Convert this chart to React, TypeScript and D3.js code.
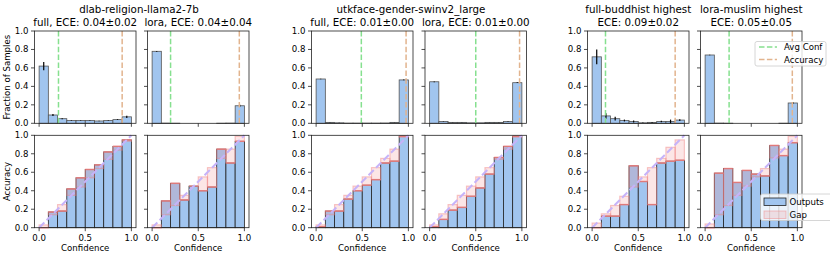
import React from 'react';
import * as d3 from 'd3';

// bins shared by every panel
const binEdges = [0, 0.1, 0.2, 0.3, 0.4, 0.5, 0.6, 0.7, 0.8, 0.9, 1.0];
const binCenters = [0.05, 0.15, 0.25, 0.35, 0.45, 0.55, 0.65, 0.75, 0.85, 0.95];
const yTicks = [0, 0.2, 0.4, 0.6, 0.8, 1.0];
const xTicks = [0, 0.5, 1.0];

// dlab-religion-llama2-7b, full
const dlabFullFrac = [0.62, 0.09, 0.05, 0.03, 0.03, 0.03, 0.025, 0.03, 0.04, 0.07];
const dlabFullErr = [0.045, 0.012, 0.006, 0.003, 0.003, 0.003, 0.003, 0.003, 0.004, 0.012];
const dlabFullAcc = [0.0, 0.17, 0.18, 0.42, 0.54, 0.63, 0.68, 0.82, 0.88, 0.95];
const dlabFullConf = [0.03, 0.14, 0.25, 0.35, 0.44, 0.54, 0.64, 0.74, 0.84, 0.935];

// dlab-religion-llama2-7b, lora
const dlabLoraFrac = [0.78, 0.002, 0.001, 0, 0, 0, 0, 0.001, 0.002, 0.19];
const dlabLoraErr = [0.004, 0, 0, 0, 0, 0, 0, 0, 0, 0.012];
const dlabLoraAcc = [0.0, 0.29, 0.48, 0.3, 0.45, 0.4, 0.44, 0.85, 0.7, 0.935];
const dlabLoraConf = [0.03, 0.14, 0.24, 0.35, 0.45, 0.55, 0.65, 0.75, 0.85, 0.99];

// utkface-gender-swinv2_large, full
const utkFullFrac = [0.48, 0.01, 0.005, 0.002, 0.002, 0.002, 0.002, 0.003, 0.01, 0.47];
const utkFullErr = [0.004, 0.001, 0.001, 0, 0, 0, 0, 0, 0.001, 0.004];
const utkFullAcc = [0.01, 0.18, 0.18, 0.31, 0.4, 0.46, 0.52, 0.7, 0.72, 0.99];
const utkFullConf = [0.03, 0.14, 0.25, 0.35, 0.45, 0.55, 0.65, 0.75, 0.85, 0.98];

// utkface-gender-swinv2_large, lora
const utkLoraFrac = [0.45, 0.02, 0.01, 0.01, 0.005, 0.005, 0.01, 0.01, 0.02, 0.44];
const utkLoraErr = [0.004, 0.002, 0.001, 0.001, 0, 0, 0.001, 0.001, 0.002, 0.004];
const utkLoraAcc = [0.01, 0.09, 0.19, 0.22, 0.34, 0.43, 0.58, 0.76, 0.88, 0.99];
const utkLoraConf = [0.03, 0.15, 0.25, 0.35, 0.45, 0.55, 0.65, 0.74, 0.85, 0.98];

// full-buddhist highest
const buddhistFrac = [0.72, 0.08, 0.05, 0.03, 0.02, 0.005, 0.01, 0.02, 0.02, 0.035];
const buddhistErr = [0.08, 0.03, 0.02, 0.01, 0.01, 0.003, 0.005, 0.008, 0.02, 0.01];
const buddhistAcc = [0.0, 0.125, 0.125, 0.25, 0.67, 0.5, 0.25, 0.7, 0.72, 0.73];
const buddhistConf = [0.05, 0.15, 0.24, 0.34, 0.44, 0.55, 0.65, 0.75, 0.87, 0.95];

// lora-muslim highest
const muslimFrac = [0.74, 0.002, 0.001, 0, 0, 0, 0, 0, 0.001, 0.22];
const muslimErr = [0.003, 0, 0, 0, 0, 0, 0, 0, 0, 0.012];
const muslimAcc = [0.0, 0.59, 0.64, 0.49, 0.62, 0.58, 0.56, 0.89, 0.78, 0.92];
const muslimConf = [0.04, 0.14, 0.24, 0.35, 0.45, 0.55, 0.64, 0.755, 0.85, 0.99];

// vertical reference lines in the top row
const avgConfLines = [0.21, 0.2, 0.49, 0.5, 0.145, 0.26];
const accuracyLines = [0.9, 0.945, 0.975, 0.975, 0.9, 0.945];

const panelTitles = [
  ['full, ECE: 0.04±0.02'],
  ['lora, ECE: 0.04±0.04'],
  ['full, ECE: 0.01±0.00'],
  ['lora, ECE: 0.01±0.00'],
  ['full-buddhist highest', 'ECE: 0.09±0.02'],
  ['lora-muslim highest', 'ECE: 0.05±0.05'],
];
const groupTitles = [
  { text: 'dlab-religion-llama2-7b', x: 139 },
  { text: 'utkface-gender-swinv2_large', x: 411 },
];

const FONT = "'DejaVu Sans', sans-serif";
const BLUE = '#a1c5ef';
const GAP = '#f08080';
const GREEN = '#86e08f';
const ORANGE = '#e2b48e';
const DIAG = '#c6b3f9';

const PW = 101.5;
const lefts = [34.5, 147.5, 311.5, 425, 587.5, 700.5];
const topRow = { y0: 31, y1: 123.3 };
const botRow = { y0: 135.3, y1: 227.7 };

const panels = [
  { frac: dlabFullFrac, err: dlabFullErr, acc: dlabFullAcc, conf: dlabFullConf },
  { frac: dlabLoraFrac, err: dlabLoraErr, acc: dlabLoraAcc, conf: dlabLoraConf },
  { frac: utkFullFrac, err: utkFullErr, acc: utkFullAcc, conf: utkFullConf },
  { frac: utkLoraFrac, err: utkLoraErr, acc: utkLoraAcc, conf: utkLoraConf },
  { frac: buddhistFrac, err: buddhistErr, acc: buddhistAcc, conf: buddhistConf },
  { frac: muslimFrac, err: muslimErr, acc: muslimAcc, conf: muslimConf },
];

const fmt = d3.format('.1f');

const Axes = ({ x, y, row, showY, showX }) => {
  const [x0, x1] = x.range();
  const [y1, y0] = y.range();
  return (
    <g fontFamily={FONT} fontSize={8.6}>
      <rect x={x0} y={y0} width={x1 - x0} height={y1 - y0} fill="none" stroke="#222" strokeWidth={0.8} />
      {yTicks.map(t => (
        <g key={'y' + t}>
          <line x1={x0 - 3.5} x2={x0} y1={y(t)} y2={y(t)} stroke="#222" strokeWidth={0.8} />
          {showY && <text x={x0 - 6} y={y(t)} dy="0.34em" textAnchor="end">{fmt(t)}</text>}
        </g>
      ))}
      {xTicks.map(t => (
        <g key={'x' + t}>
          <line x1={x(t)} x2={x(t)} y1={y1} y2={y1 + 3.5} stroke="#222" strokeWidth={0.8} />
          {showX && <text x={x(t)} y={y1 + 13} textAnchor="middle">{fmt(t)}</text>}
        </g>
      ))}
      {showX && <text x={(x0 + x1) / 2} y={251} textAnchor="middle">Confidence</text>}
    </g>
  );
};

const TopPanel = ({ i }) => {
  const p = panels[i];
  const x = d3.scaleLinear().domain([-0.05, 1.05]).range([lefts[i], lefts[i] + PW]);
  const y = d3.scaleLinear().domain([0, 1]).range([topRow.y1, topRow.y0]);
  return (
    <g>
      {p.frac.map((v, k) => (
        <rect key={k} x={x(binEdges[k])} width={x(binEdges[k + 1]) - x(binEdges[k])}
          y={y(v)} height={y(0) - y(v)} fill={BLUE} stroke="#555" strokeWidth={0.8} />
      ))}
      {p.err.map((e, k) => e > 0 && (
        <line key={'e' + k} x1={x(binCenters[k])} x2={x(binCenters[k])}
          y1={y(Math.max(0, p.frac[k] - e))} y2={y(p.frac[k] + e)} stroke="#000" strokeWidth={1.2} />
      ))}
      <line x1={x(avgConfLines[i])} x2={x(avgConfLines[i])} y1={y(0)} y2={y(1)}
        stroke={GREEN} strokeWidth={1.5} strokeDasharray="5.5,2.4" />
      <line x1={x(accuracyLines[i])} x2={x(accuracyLines[i])} y1={y(0)} y2={y(1)}
        stroke={ORANGE} strokeWidth={1.5} strokeDasharray="5.5,2.4" />
      <Axes x={x} y={y} row="top" showY={i % 2 === 0} showX={false} />
    </g>
  );
};

const BottomPanel = ({ i }) => {
  const p = panels[i];
  const x = d3.scaleLinear().domain([-0.05, 1.05]).range([lefts[i], lefts[i] + PW]);
  const y = d3.scaleLinear().domain([0, 1]).range([botRow.y1, botRow.y0]);
  const w = k => x(binEdges[k + 1]) - x(binEdges[k]);
  return (
    <g>
      {p.acc.map((v, k) => (
        <rect key={k} x={x(binEdges[k])} width={w(k)} y={y(v)} height={y(0) - y(v)}
          fill={BLUE} stroke="#222" strokeWidth={0.8} />
      ))}
      {p.acc.map((v, k) => {
        const lo = Math.min(v, p.conf[k]);
        const hi = Math.max(v, p.conf[k]);
        return (
          <rect key={'g' + k} x={x(binEdges[k])} width={w(k)} y={y(hi)} height={y(lo) - y(hi)}
            fill={GAP} fillOpacity={0.2} stroke={GAP} strokeOpacity={0.45} strokeWidth={1.2} />
        );
      })}
      {p.acc.map((v, k) => (
        <line key={'a' + k} x1={x(binEdges[k])} x2={x(binEdges[k + 1])} y1={y(v)} y2={y(v)}
          stroke={GAP} strokeOpacity={0.8} strokeWidth={1.5} />
      ))}
      <line x1={x(0)} y1={y(0)} x2={x(1)} y2={y(1)} stroke={DIAG} strokeWidth={2} strokeDasharray="7.4,3.2" />
      <Axes x={x} y={y} row="bottom" showY={i % 2 === 0} showX={true} />
    </g>
  );
};

const App = () => (
  <svg width={830} height={256} style={{ position: 'absolute', left: 0, top: 0, background: '#fff' }}
    fontFamily={FONT}>
    {groupTitles.map(g => (
      <text key={g.text} x={g.x} y={13} fontSize={10.3} textAnchor="middle">{g.text}</text>
    ))}
    {panelTitles.map((lines, i) => (
      <text key={i} x={lefts[i] + PW / 2} fontSize={10.3} textAnchor="middle">
        {lines.length === 1
          ? <tspan x={lefts[i] + PW / 2} y={25.5}>{lines[0]}</tspan>
          : lines.map((l, j) => <tspan key={j} x={lefts[i] + PW / 2} y={13 + j * 12.5}>{l}</tspan>)}
      </text>
    ))}
    {panels.map((_, i) => <TopPanel key={'t' + i} i={i} />)}
    {panels.map((_, i) => <BottomPanel key={'b' + i} i={i} />)}

    <text transform={`translate(10,${(topRow.y0 + topRow.y1) / 2}) rotate(-90)`} fontSize={8.6} textAnchor="middle">Fraction of Samples</text>
    <text transform={`translate(10,${(botRow.y0 + botRow.y1) / 2}) rotate(-90)`} fontSize={8.6} textAnchor="middle">Accuracy</text>

    {/* top legend */}
    <g fontSize={8.6}>
      <rect x={755} y={41.5} width={71} height={24.5} rx={2} fill="#fff" fillOpacity={0.8} stroke="#ccc" strokeWidth={0.8} />
      <line x1={759} x2={777} y1={47} y2={47} stroke={GREEN} strokeWidth={1.5} strokeDasharray="5.5,2.4" />
      <text x={784} y={50}>Avg Conf</text>
      <line x1={759} x2={777} y1={59.5} y2={59.5} stroke={ORANGE} strokeWidth={1.5} strokeDasharray="5.5,2.4" />
      <text x={784} y={62.5}>Accuracy</text>
    </g>
    {/* bottom legend */}
    <g fontSize={8.6}>
      <rect x={760.5} y={194} width={80} height={26.5} rx={2} fill="#fff" fillOpacity={0.8} stroke="#ccc" strokeWidth={0.8} />
      <rect x={764} y={198} width={22} height={7.5} fill={BLUE} stroke="#222" strokeWidth={0.8} />
      <text x={789.5} y={205}>Outputs</text>
      <rect x={764} y={211} width={22} height={7.5} fill={GAP} fillOpacity={0.2} stroke={GAP} strokeOpacity={0.45} strokeWidth={1} />
      <text x={789.5} y={218}>Gap</text>
    </g>
  </svg>
);

export default App;
